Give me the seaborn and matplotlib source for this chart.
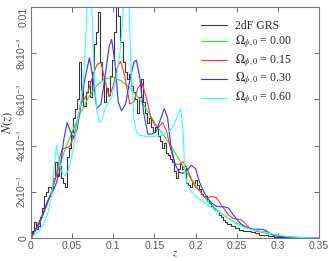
import numpy as np
import pandas as pd
import matplotlib
matplotlib.use("Agg")
import matplotlib.pyplot as plt
import seaborn as sns

# 2dF GRS histogram (N in units of 1e-3)
z_2df = [0.0, 0.0025, 0.005, 0.0075, 0.01, 0.0125, 0.015, 0.0175, 0.02, 0.0225,
         0.025, 0.0275, 0.03, 0.0325, 0.035, 0.0375, 0.04, 0.0425, 0.045, 0.0475,
         0.05, 0.0525, 0.055, 0.0575, 0.06, 0.0625, 0.065, 0.0675, 0.07, 0.0725,
         0.075, 0.0775, 0.08, 0.0825, 0.085, 0.0875, 0.09, 0.0925, 0.095, 0.0975,
         0.1, 0.1025, 0.105, 0.1075, 0.11, 0.1125, 0.115, 0.1175, 0.12, 0.1225,
         0.125, 0.1275, 0.13, 0.1325, 0.135, 0.1375, 0.14, 0.1425, 0.145, 0.1475,
         0.15, 0.1525, 0.155, 0.1575, 0.16, 0.1625, 0.165, 0.1675, 0.17, 0.1725,
         0.175, 0.1775, 0.18, 0.1825, 0.185, 0.1875, 0.19, 0.1925, 0.195, 0.1975,
         0.2, 0.2025, 0.205, 0.2075, 0.21, 0.2125, 0.215, 0.2175, 0.22, 0.2225,
         0.225, 0.2275, 0.23, 0.2325, 0.235, 0.2375, 0.24, 0.245, 0.25, 0.255,
         0.26, 0.265, 0.27, 0.275, 0.28, 0.285, 0.29, 0.3, 0.31, 0.32, 0.33, 0.35]
n_2df = [0.0, 0.3, 0.7, 0.4, 0.5, 0.9, 1.3, 1.8, 2.0, 2.2,
         2.1, 2.6, 3.3, 2.7, 3.1, 2.6, 2.4, 2.2, 3.5, 3.9,
         4.6, 5.2, 5.6, 6.0, 7.6, 6.4, 5.7, 6.3, 6.8, 6.1,
         7.2, 8.4, 8.9, 9.8, 7.6, 6.9, 5.9, 6.5, 6.2, 7.0,
         7.7, 8.9, 10.3, 9.6, 8.5, 7.6, 7.2, 6.9, 7.1, 6.6,
         6.3, 6.0, 5.4, 6.1, 6.9, 5.9, 5.4, 5.0, 5.2, 4.8,
         4.6, 4.8, 4.4, 4.2, 3.9, 4.1, 3.7, 3.6, 3.4, 3.3,
         2.9, 2.6, 3.0, 3.2, 3.0, 3.1, 2.4, 2.3, 2.2, 2.4,
         2.5, 2.3, 2.1, 1.9, 1.8, 1.8, 1.6, 1.5, 1.4, 1.3,
         1.2, 1.15, 1.0, 0.9, 0.8, 0.7, 0.6, 0.5, 0.45, 0.35,
         0.3, 0.3, 0.25, 0.2, 0.15, 0.12, 0.08, 0.05, 0.03, 0.02, 0.01, 0.0]

# Omega_phi,0 = 0.00
z_000 = [0.0, 0.01, 0.02, 0.03, 0.04, 0.05, 0.06, 0.07, 0.08, 0.09, 0.1, 0.11,
         0.12, 0.13, 0.14, 0.15, 0.16, 0.17, 0.18, 0.19, 0.2, 0.21, 0.22, 0.23,
         0.24, 0.25, 0.26, 0.27, 0.28, 0.29, 0.3, 0.31, 0.32, 0.33, 0.34, 0.35]
n_000 = [0.0, 0.6, 1.5, 2.6, 3.7, 4.6, 5.4, 6.1, 6.6, 6.9, 6.95, 6.8,
         6.5, 6.1, 5.6, 5.0, 4.5, 4.0, 3.4, 2.8, 2.3, 1.8, 1.4, 1.1,
         0.85, 0.65, 0.48, 0.35, 0.25, 0.17, 0.1, 0.06, 0.03, 0.015, 0.005, 0.0]

# Omega_phi,0 = 0.15
z_015 = [0.0, 0.01, 0.015, 0.02, 0.025, 0.03, 0.035, 0.038, 0.042, 0.047, 0.052,
         0.056, 0.06, 0.065, 0.07, 0.075, 0.08, 0.085, 0.09, 0.095, 0.1, 0.105,
         0.109, 0.114, 0.12, 0.125, 0.13, 0.135, 0.14, 0.145, 0.15, 0.155, 0.16,
         0.165, 0.17, 0.175, 0.18, 0.185, 0.19, 0.195, 0.2, 0.205, 0.21, 0.215,
         0.22, 0.225, 0.23, 0.235, 0.24, 0.245, 0.25, 0.255, 0.26, 0.265, 0.27,
         0.275, 0.28, 0.285, 0.29, 0.3, 0.31, 0.32, 0.35]
n_015 = [0.0, 0.6, 1.05, 1.5, 2.0, 2.6, 3.5, 3.85, 3.9, 3.95, 4.4,
         5.0, 5.8, 6.0, 6.4, 7.0, 7.5, 7.6, 6.8, 6.1, 6.6, 7.4,
         7.65, 7.0, 5.8, 5.9, 6.5, 6.7, 6.1, 5.3, 4.9, 4.8, 5.0,
         4.6, 3.8, 3.2, 3.2, 3.3, 3.0, 2.5, 2.2, 2.05, 1.8, 1.75,
         1.8, 1.75, 1.5, 1.25, 1.0, 0.85, 0.82, 0.8, 0.65, 0.45, 0.35,
         0.28, 0.27, 0.27, 0.2, 0.1, 0.05, 0.02, 0.0]

# Omega_phi,0 = 0.30
z_030 = [0.0, 0.01, 0.015, 0.02, 0.025, 0.03, 0.035, 0.04, 0.044, 0.048, 0.052,
         0.056, 0.06, 0.065, 0.071, 0.075, 0.08, 0.085, 0.09, 0.095, 0.098, 0.102,
         0.106, 0.11, 0.115, 0.12, 0.125, 0.128, 0.132, 0.137, 0.142, 0.147, 0.152,
         0.157, 0.162, 0.166, 0.17, 0.175, 0.18, 0.185, 0.19, 0.195, 0.2, 0.205,
         0.21, 0.215, 0.22, 0.225, 0.23, 0.235, 0.24, 0.245, 0.25, 0.255, 0.26,
         0.265, 0.27, 0.275, 0.28, 0.285, 0.29, 0.295, 0.3, 0.31, 0.32, 0.35]
n_030 = [0.0, 0.7, 1.1, 1.6, 1.9, 2.3, 2.9, 4.3, 5.0, 4.6, 4.3,
         4.7, 5.6, 6.8, 7.8, 7.0, 5.6, 5.8, 7.0, 8.3, 8.6, 7.6,
         5.9, 5.5, 5.8, 6.8, 7.6, 7.7, 7.0, 5.4, 4.5, 4.5, 4.6,
         5.1, 5.6, 5.2, 4.0, 3.2, 2.85, 2.8, 2.95, 3.15, 3.0, 2.4,
         2.0, 1.7, 1.5, 1.38, 1.35, 1.35, 1.3, 1.05, 0.8, 0.62, 0.5,
         0.42, 0.38, 0.38, 0.38, 0.34, 0.2, 0.12, 0.08, 0.04, 0.02, 0.0]

# Omega_phi,0 = 0.60
z_060 = [0.0, 0.01, 0.015, 0.02, 0.025, 0.028, 0.031, 0.034, 0.037, 0.041, 0.045,
         0.05, 0.055, 0.06, 0.064, 0.067, 0.0705, 0.074, 0.077, 0.08, 0.083, 0.086,
         0.09, 0.098, 0.104, 0.108, 0.111, 0.114, 0.116, 0.118, 0.12, 0.122, 0.125,
         0.128, 0.132, 0.14, 0.15, 0.16, 0.168, 0.174, 0.178, 0.182, 0.185, 0.187,
         0.19, 0.195, 0.2, 0.21, 0.22, 0.23, 0.24, 0.25, 0.26, 0.27, 0.28,
         0.29, 0.3, 0.31, 0.32, 0.33, 0.35]
n_060 = [0.0, 0.3, 0.6, 1.0, 1.8, 3.0, 4.0, 3.4, 2.9, 2.7, 2.9,
         3.6, 4.7, 5.7, 7.0, 9.0, 12.0, 9.8, 7.0, 5.5, 5.0, 5.1,
         5.6, 6.1, 7.0, 8.0, 9.2, 11.0, 12.0, 11.0, 9.0, 7.0, 5.2,
         4.6, 4.45, 4.4, 4.4, 4.45, 4.6, 4.9, 5.3, 5.6, 4.5, 2.8,
         2.3, 2.0, 1.8, 1.55, 1.3, 1.1, 0.85, 0.6, 0.45, 0.35, 0.28,
         0.2, 0.12, 0.07, 0.04, 0.02, 0.0]

labels = ['2dF GRS', r'$\Omega_{\phi,0}$ = 0.00', r'$\Omega_{\phi,0}$ = 0.15',
          r'$\Omega_{\phi,0}$ = 0.30', r'$\Omega_{\phi,0}$ = 0.60']
colors = ['#383838', '#22ee22', '#ff3333', '#3333ff', '#33ffff']

sns.set_style('ticks')
plt.rcParams['font.family'] = ['Liberation Sans', 'DejaVu Sans']
plt.rcParams['mathtext.fontset'] = 'stix'

fig = plt.figure(figsize=(3.29, 2.61), dpi=100)
ax = fig.add_axes([31 / 329, 23 / 261, 288 / 329, 231 / 261])

series = [(z_2df, n_2df), (z_000, n_000), (z_015, n_015), (z_030, n_030), (z_060, n_060)]
for i, (zz, nn) in enumerate(series):
    d = pd.DataFrame({'z': zz, 'N': np.array(nn) * 1e-3})
    kw = {'drawstyle': 'steps-mid'} if i == 0 else {}
    sns.lineplot(data=d, x='z', y='N', ax=ax, color=colors[i], lw=0.8,
                 estimator=None, sort=False, label=labels[i], **kw)

ax.set_xlim(0, 0.35)
ax.set_ylim(0, 0.01)
ax.set_xticks([0, 0.05, 0.1, 0.15, 0.2, 0.25, 0.3, 0.35])
ax.set_xticklabels(['0', '0.05', '0.1', '0.15', '0.2', '0.25', '0.3', '0.35'])
ax.set_yticks([0, 0.002, 0.004, 0.006, 0.008, 0.01])
ax.set_yticklabels(['0', '2x10$^{-3}$', '4x10$^{-3}$', '6x10$^{-3}$',
                    '8x10$^{-3}$', '0.01'], rotation=90, va='center')
ax.get_yticklabels()[-1].set_va('top')
ax.tick_params(direction='in', top=True, right=True, length=3.5, width=0.6,
               labelsize=7.5, colors='#555555', pad=2)
for s in ax.spines.values():
    s.set_color('#777777')
    s.set_linewidth(0.8)

ax.set_xlabel('$z$', fontsize=8, labelpad=-1)
ax.set_ylabel('$N(z)$', fontsize=9, labelpad=0)

leg = ax.legend(loc='upper right', bbox_to_anchor=(0.93, 0.975), frameon=False,
                handlelength=2.2, handletextpad=0.7, labelspacing=0.15,
                borderaxespad=0.2, prop={'family': 'Liberation Serif', 'size': 8.5})
for line in leg.get_lines():
    line.set_linewidth(0.8)

fig.savefig('out.png', dpi=100)
